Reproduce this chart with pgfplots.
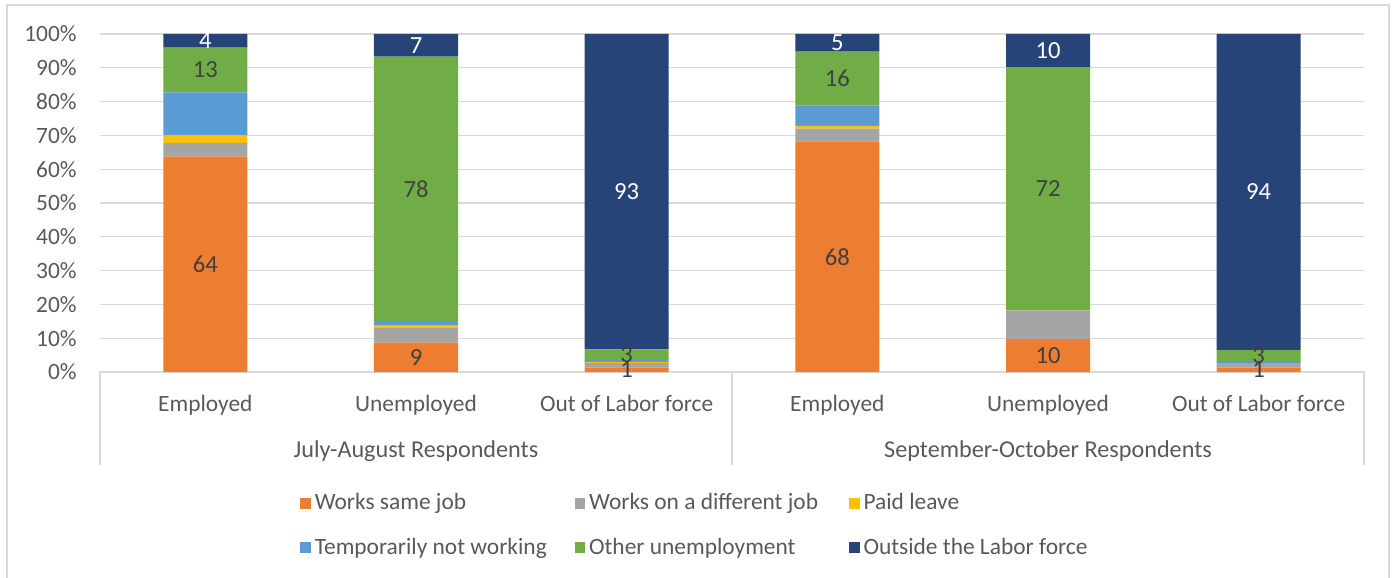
\documentclass[border=0pt]{standalone}
\usepackage{fontspec}
\setmainfont{Carlito}
\usepackage{pgfplots}
\pgfplotsset{compat=1.18}
\usepackage{pgfplotstable}
\definecolor{cOrange}{HTML}{ED7D31}
\definecolor{cGray}{HTML}{A5A5A5}
\definecolor{cYellow}{HTML}{FFC000}
\definecolor{cBlue}{HTML}{5B9BD5}
\definecolor{cGreen}{HTML}{70AD47}
\definecolor{cNavy}{HTML}{264478}
\definecolor{gridc}{HTML}{D9D9D9}
\definecolor{tickc}{HTML}{595959}
\definecolor{lblc}{HTML}{404040}

\pgfplotstableread{
x orange gray yellow blue green navy lo lg ln
0 63.8 4.0 2.3 12.6 13.3 4.0 64 13 4
1 8.7 4.5 0.7 1.2 78.2 6.7 9 78 7
2 1.4 1.2 0.3 0.7 3.1 93.3 1 3 93
3 68.2 3.8 0.8 6.0 16.0 5.2 68 16 5
4 9.7 8.5 0.0 0.0 72.0 9.8 10 72 10
5 1.3 1.3 0.0 0.6 3.3 93.5 1 3 94
}\data

\newcommand{\tfont}{\fontsize{11.7}{14}\selectfont}
\pgfplotsset{
  sqleg/.style={legend image code/.code={\fill[##1,draw=none] (0pt,-2.6pt) rectangle (5.2pt,2.6pt);}},
  lbl/.style={nodes near coords, point meta=explicit symbolic,
    every node near coord/.append style={anchor=center, font=\fontsize{12.3}{14}\selectfont}},
}

\begin{document}
\begin{tikzpicture}
\begin{axis}[
  scale only axis, width=632pt, height=169pt,
  ybar stacked, bar width=42pt,
  xmin=-0.5, xmax=5.5, ymin=0, ymax=100,
  xtick={0,1,2,3,4,5},
  xticklabels={Employed,Unemployed,Out of Labor force,Employed,Unemployed,Out of Labor force},
  ytick={0,10,20,30,40,50,60,70,80,90,100},
  yticklabels={0\%,10\%,20\%,30\%,40\%,50\%,60\%,70\%,80\%,90\%,100\%},
  major tick length=0pt,
  ymajorgrids, grid style={gridc, line width=0.65pt},
  axis line style={draw=none},
  tick label style={font=\tfont, text=tickc},
  xticklabel style={anchor=base, yshift=-19.5pt},
  yticklabel style={anchor=east, inner sep=0pt, xshift=-11.5pt},
  clip=false,
  legend columns=3,
  legend cell align=left,
  legend style={draw=none, fill=none, at={(0.1582,-0.4541)}, anchor=west, inner sep=0pt,
    font=\tfont, text=tickc, row sep=8.5pt},
]
\addplot+[fill=cOrange, draw=none, sqleg, lbl, every node near coord/.append style={text=lblc}] table[x=x, y=orange, meta=lo] {\data};
\addlegendentry{\makebox[128pt][l]{Works same job}}
\addplot+[fill=cGray, draw=none, sqleg] table[x=x, y=gray] {\data};
\addlegendentry{\makebox[128pt][l]{Works on a different job}}
\addplot+[fill=cYellow, draw=none, sqleg] table[x=x, y=yellow] {\data};
\addlegendentry{\makebox[128pt][l]{Paid leave}}
\addplot+[fill=cBlue, draw=none, sqleg] table[x=x, y=blue] {\data};
\addlegendentry{\makebox[128pt][l]{Temporarily not working}}
\addplot+[fill=cGreen, draw=none, sqleg, lbl, every node near coord/.append style={text=lblc}] table[x=x, y=green, meta=lg] {\data};
\addlegendentry{\makebox[128pt][l]{Other unemployment}}
\addplot+[fill=cNavy, draw=none, sqleg, lbl, every node near coord/.append style={text=white}] table[x=x, y=navy, meta=ln] {\data};
\addlegendentry{\makebox[128pt][l]{Outside the Labor force}}

\draw[gridc, line width=0.8pt] (axis cs:-0.5,0) -- (axis cs:5.5,0);
\draw[gridc, line width=0.65pt] (axis cs:-0.5,0) -- ++(0pt,-46.5pt);
\draw[gridc, line width=0.65pt] (axis cs:2.5,0) -- ++(0pt,-46.5pt);
\draw[gridc, line width=0.65pt] (axis cs:5.5,0) -- ++(0pt,-46.5pt);
\node[anchor=base, yshift=-42.5pt, font=\fontsize{12.1}{14}\selectfont, text=tickc] at (axis cs:1,0) {July-August Respondents};
\node[anchor=base, yshift=-42.5pt, font=\fontsize{12.1}{14}\selectfont, text=tickc] at (axis cs:4,0) {September-October Respondents};
\coordinate (O) at (axis cs:-0.5,0);
\end{axis}
\pgfresetboundingbox
\begin{scope}[shift={(O)}]
\path[use as bounding box] (-50pt,-103pt) rectangle (649pt,186pt);
\draw[gridc, line width=0.75pt] (-46.5pt,-110pt) -- (-46.5pt,183.5pt) -- (644.5pt,183.5pt) -- (644.5pt,-110pt);
\end{scope}
\end{tikzpicture}
\end{document}
